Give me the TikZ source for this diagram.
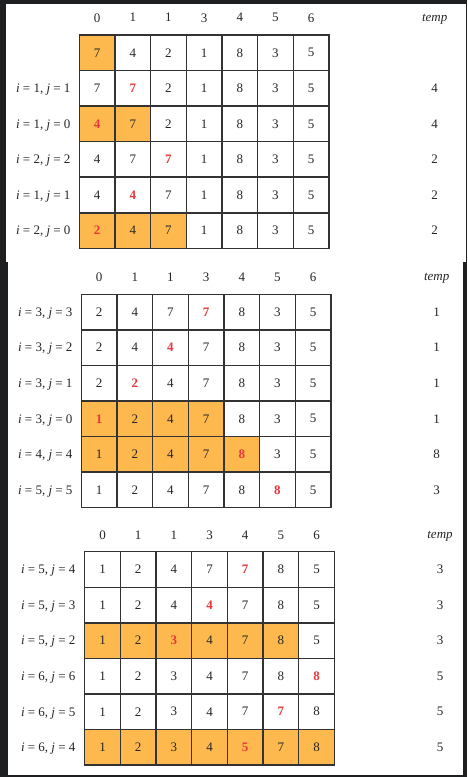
\documentclass[tikz,border=0pt]{standalone}
\usepackage{fontspec}
\setmainfont{Liberation Serif}
\definecolor{bgdark}{HTML}{1E1F21}
\definecolor{hlorange}{HTML}{FDB94D}
\definecolor{redc}{HTML}{E8383D}
\definecolor{gridc}{HTML}{333333}
\definecolor{textc}{HTML}{262626}
\tikzset{
  cell/.style={draw=gridc, line width=1.5pt, minimum width=35.67pt, minimum height=35.56pt,
    inner sep=0pt, font=\fontsize{13}{15}\selectfont},
  lbl/.style={inner sep=0pt, text depth=0pt, text=textc, font=\fontsize{13}{15}\selectfont},
}
% cells of one row: name, row, orange count, red index, values
\newcommand{\cellrow}[5]{%
  \foreach \v [count=\c from 0] in {#5} {
    \ifnum\c<#3\relax \def\fc{hlorange}\else\def\fc{white}\fi
    \ifnum\c=#4\relax \def\tc{redc}\def\tw{\bfseries}\else\def\tc{textc}\def\tw{}\fi
    \node[cell, fill=\fc, text=\tc] (#1-\c) at ({\gx+(\c+0.5)*35.67}, {\gy+(#2+0.5)*35.56}) {\tw\v};
  }}
% full row: name, row, orange, red, values, i, j, temp
\newcommand{\prow}[8]{%
  \cellrow{#1}{#2}{#3}{#4}{#5}
  \node[lbl] (#1-lab) at (\lx, {\gy+(#2+0.5)*35.56}) {\textit{i} = #6, \textit{j} = #7};
  \node[lbl] (#1-tmp) at (\tx, {\gy+(#2+0.5)*35.56}) {#8};
}
\newcommand{\header}[1]{%
  \foreach \h [count=\c from 0] in {0,1,1,3,4,5,6}
    \node[lbl] (#1-h\c) at ({\gx+(\c+0.5)*35.67}, \hy) {\h};
  \node[lbl] (#1-htemp) at (\tx, \hy) {\textit{temp}};
}
\begin{document}
\begin{tikzpicture}[x=1pt, y=-1pt]
\useasboundingbox (0,0) rectangle (467,777);
\fill[bgdark] (0,0) rectangle (467,777);
\fill[white] (6,4) rectangle (465.5,262);
\fill[white] (8,262) rectangle (463,520);
\fill[white] (8,520) rectangle (463,774.5);

% ---------- panel 1
\def\gx{79.3}\def\gy{35}\def\lx{43.3}\def\tx{434.7}\def\hy{17.7}
\header{a}
\cellrow{a0}{0}{1}{-1}{7,4,2,1,8,3,5}
\prow{a1}{1}{0}{1}{7,7,2,1,8,3,5}{1}{1}{4}
\prow{a2}{2}{2}{0}{4,7,2,1,8,3,5}{1}{0}{4}
\prow{a3}{3}{0}{2}{4,7,7,1,8,3,5}{2}{2}{2}
\prow{a4}{4}{0}{1}{4,4,7,1,8,3,5}{1}{1}{2}
\prow{a5}{5}{3}{0}{2,4,7,1,8,3,5}{2}{0}{2}

% ---------- panel 2
\def\gx{81.3}\def\gy{294.3}\def\lx{45.3}\def\tx{436.7}\def\hy{277}
\header{b}
\prow{b0}{0}{0}{3}{2,4,7,7,8,3,5}{3}{3}{1}
\prow{b1}{1}{0}{2}{2,4,4,7,8,3,5}{3}{2}{1}
\prow{b2}{2}{0}{1}{2,2,4,7,8,3,5}{3}{1}{1}
\prow{b3}{3}{4}{0}{1,2,4,7,8,3,5}{3}{0}{1}
\prow{b4}{4}{5}{4}{1,2,4,7,8,3,5}{4}{4}{8}
\prow{b5}{5}{0}{5}{1,2,4,7,8,8,5}{5}{5}{3}

% ---------- panel 3
\def\gx{84.7}\def\gy{551.7}\def\lx{48.2}\def\tx{440}\def\hy{535}
\header{c}
\prow{c0}{0}{0}{4}{1,2,4,7,7,8,5}{5}{4}{3}
\prow{c1}{1}{0}{3}{1,2,4,4,7,8,5}{5}{3}{3}
\prow{c2}{2}{6}{2}{1,2,3,4,7,8,5}{5}{2}{3}
\prow{c3}{3}{0}{6}{1,2,3,4,7,8,8}{6}{6}{5}
\prow{c4}{4}{0}{5}{1,2,3,4,7,7,8}{6}{5}{5}
\prow{c5}{5}{7}{4}{1,2,3,4,5,7,8}{6}{4}{5}
\end{tikzpicture}
\end{document}
